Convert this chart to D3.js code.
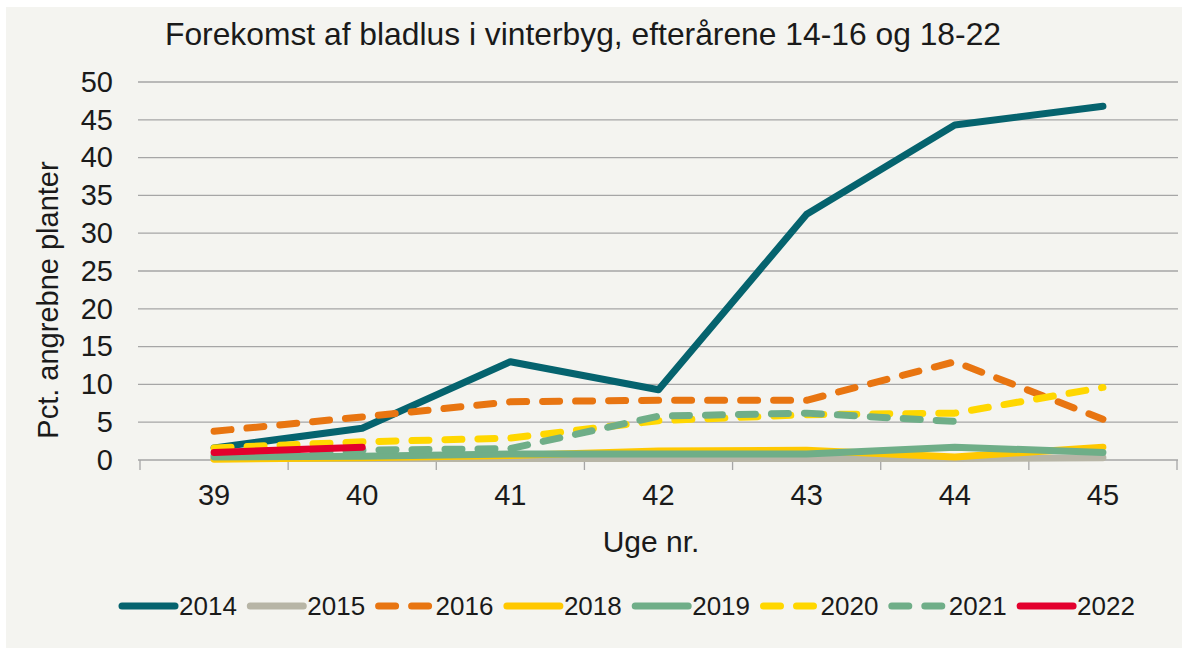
<!DOCTYPE html>
<html>
<head>
<meta charset="utf-8">
<script src="https://cdn.jsdelivr.net/npm/d3@7"></script>
<style>
  html, body { margin: 0; padding: 0; background: #ffffff; }
  svg { display: block; font-family: "Liberation Sans", Arial, sans-serif; }
</style>
</head>
<body>
<div id="chart"></div>
<script>
const weeks = ['39', '40', '41', '42', '43', '44', '45'];
const yTicks = [0, 5, 10, 15, 20, 25, 30, 35, 40, 45, 50];

const y2014 = [1.6, 4.2, 13.0, 9.3, 32.5, 44.3, 46.8];
const y2015 = [0.2, 0.2, 0.2, 0.2, 0.2, 0.2, 0.3];
const y2016 = [3.8, 5.7, 7.7, 7.9, 7.9, 13.0, 5.4];
const y2018 = [0.1, 0.3, 0.6, 1.2, 1.3, 0.4, 1.7];
const y2019 = [0.4, 0.5, 0.8, 0.8, 0.8, 1.7, 1.0];
const y2020 = [1.6, 2.4, 2.9, 5.2, 6.0, 6.2, 9.6];
const y2021 = [0.6, 1.3, 1.5, 5.8, 6.2, 5.1];
const y2022 = [1.0, 1.7];

const series = [
  { name: '2014', values: y2014, color: '#05636e', dash: null },
  { name: '2015', values: y2015, color: '#b7b5a6', dash: null },
  { name: '2016', values: y2016, color: '#e87511', dash: '17,16' },
  { name: '2018', values: y2018, color: '#ffc800', dash: null },
  { name: '2019', values: y2019, color: '#6fae88', dash: null },
  { name: '2020', values: y2020, color: '#ffd700', dash: '17,16' },
  { name: '2021', values: y2021, color: '#6fae88', dash: '17,16' },
  { name: '2022', values: y2022, color: '#e3002d', dash: null }
];

const W = 1182, H = 648;
const svg = d3.select('#chart').append('svg')
  .attr('width', W)
  .attr('height', H);

// panel background
svg.append('rect')
  .attr('x', 6).attr('y', 7)
  .attr('width', W - 6).attr('height', H - 7)
  .attr('fill', '#f4f4f0');

const x = d3.scaleBand().domain(weeks).range([140, 1177]);
const y = d3.scaleLinear().domain([0, 50]).range([460, 82]);

// title
svg.append('text')
  .attr('x', 583).attr('y', 45)
  .attr('text-anchor', 'middle')
  .attr('font-size', 31.8)
  .attr('fill', '#1a1a1a')
  .text('Forekomst af bladlus i vinterbyg, efterårene 14-16 og 18-22');

// grid
svg.append('g')
  .selectAll('line')
  .data(yTicks.filter(d => d > 0))
  .join('line')
  .attr('x1', 138).attr('x2', 1178)
  .attr('y1', d => y(d)).attr('y2', d => y(d))
  .attr('stroke', '#a6a6a6')
  .attr('stroke-width', 1.3);

// y axis labels
svg.append('g')
  .call(d3.axisLeft(y).tickValues(yTicks).tickSize(0).tickPadding(0))
  .attr('transform', 'translate(113,0)')
  .call(g => g.select('.domain').remove())
  .selectAll('text')
  .attr('font-size', 29)
  .attr('font-family', '"Liberation Sans", Arial, sans-serif')
  .attr('fill', '#1a1a1a');

// x axis
const xAxis = svg.append('g').attr('transform', `translate(0,${y(0)})`);
xAxis.append('line')
  .attr('x1', 138).attr('x2', 1178)
  .attr('stroke', '#a6a6a6').attr('stroke-width', 1.3);
xAxis.selectAll('.tk')
  .data(weeks.map(w => x(w)).concat([x.range()[1]]))
  .join('line')
  .attr('class', 'tk')
  .attr('x1', d => d).attr('x2', d => d)
  .attr('y1', 0).attr('y2', 10)
  .attr('stroke', '#a6a6a6').attr('stroke-width', 1.3);
xAxis.selectAll('.lbl')
  .data(weeks)
  .join('text')
  .attr('class', 'lbl')
  .attr('x', d => x(d) + x.bandwidth() / 2)
  .attr('y', 45)
  .attr('text-anchor', 'middle')
  .attr('font-size', 29)
  .attr('fill', '#1a1a1a')
  .text(d => d);

// axis titles
svg.append('text')
  .attr('x', 651).attr('y', 552)
  .attr('text-anchor', 'middle')
  .attr('font-size', 30)
  .attr('fill', '#1a1a1a')
  .text('Uge nr.');

svg.append('text')
  .attr('transform', 'translate(58,300) rotate(-90)')
  .attr('text-anchor', 'middle')
  .attr('font-size', 29)
  .attr('fill', '#1a1a1a')
  .text('Pct. angrebne planter');

// lines
const line = d3.line()
  .x((d, i) => x(weeks[i]) + x.bandwidth() / 2)
  .y(d => y(d));

svg.append('g')
  .selectAll('path')
  .data(series)
  .join('path')
  .attr('d', s => line(s.values))
  .attr('fill', 'none')
  .attr('stroke', s => s.color)
  .attr('stroke-width', 7)
  .attr('stroke-linecap', 'round')
  .attr('stroke-linejoin', 'round')
  .attr('stroke-dasharray', s => s.dash);

// legend
const legend = svg.append('g')
  .selectAll('g')
  .data(series)
  .join('g')
  .attr('transform', (d, i) => `translate(${122 + i * 128.3},606)`);

legend.append('line')
  .attr('x1', 0).attr('x2', 53)
  .attr('stroke', d => d.color)
  .attr('stroke-width', 7)
  .attr('stroke-linecap', 'round')
  .attr('stroke-dasharray', d => d.dash ? '17,16' : null);

legend.append('text')
  .attr('x', 57).attr('y', 9)
  .attr('font-size', 26)
  .attr('fill', '#1a1a1a')
  .text(d => d.name);
</script>
</body>
</html>
